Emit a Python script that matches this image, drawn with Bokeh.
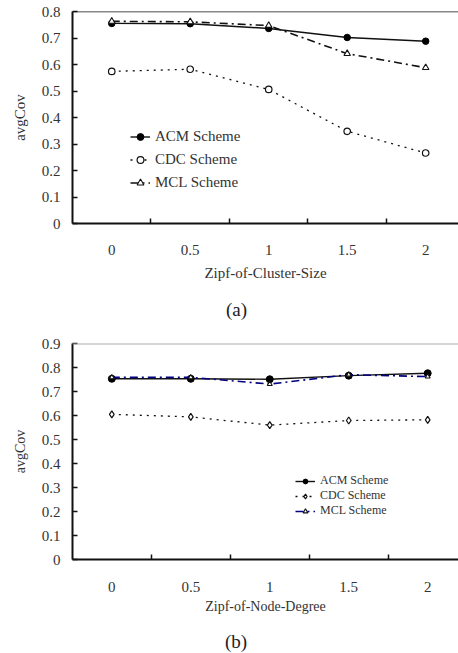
from bokeh.plotting import figure
from bokeh.models import FixedTicker, Legend, LegendItem, Span, Range1d, Div
from bokeh.layouts import column
from bokeh.embed import file_html
from bokeh.resources import INLINE

# ---- data ----
x_vals = [0, 0.5, 1, 1.5, 2]
x_labels = ["0", "0.5", "1", "1.5", "2"]
x_between = [0.25, 0.75, 1.25, 1.75]

acm_a = [0.755, 0.754, 0.736, 0.702, 0.688]
cdc_a = [0.574, 0.582, 0.506, 0.348, 0.266]
mcl_a = [0.763, 0.761, 0.747, 0.641, 0.588]

acm_b = [0.753, 0.753, 0.751, 0.766, 0.776]
cdc_b = [0.605, 0.594, 0.560, 0.579, 0.582]
mcl_b = [0.759, 0.759, 0.731, 0.770, 0.762]

y_ticks_a = [0, 0.1, 0.2, 0.3, 0.4, 0.5, 0.6, 0.7, 0.8]
y_labels_a = ["0", "0.1", "0.2", "0.3", "0.4", "0.5", "0.6", "0.7", "0.8"]
y_ticks_b = [0, 0.1, 0.2, 0.3, 0.4, 0.5, 0.6, 0.7, 0.8, 0.9]
y_labels_b = ["0", "0.1", "0.2", "0.3", "0.4", "0.5", "0.6", "0.7", "0.8", "0.9"]

names = ["ACM Scheme", "CDC Scheme", "MCL Scheme"]

FONT = "Liberation Serif"
TXT = "#333333"
AX = "#111111"


def make_chart(acm, cdc, mcl, y_ticks, y_labels, xlabel,
               x_range, height, top, bottom, left, top_line_color,
               top_line_width, mcl_color, cdc_marker, marker_sizes,
               axis_font, legend_font, legend_loc, legend_row,
               legend_spacing, tick_standoff, label_standoff):
    p = figure(width=458, height=height, x_range=Range1d(*x_range),
               y_range=Range1d(0, y_ticks[-1]), output_backend="svg",
               toolbar_location=None, min_border_left=left, min_border_right=0,
               min_border_top=top, min_border_bottom=bottom,
               outline_line_color=None, border_fill_color="white")
    p.grid.visible = False

    xa = p.xaxis[0]
    xa.ticker = FixedTicker(ticks=x_vals, minor_ticks=x_between)
    xa.major_label_overrides = {v: s for v, s in zip(x_vals, x_labels)}
    xa.major_tick_in = 0
    xa.major_tick_out = 0
    xa.minor_tick_in = 5
    xa.minor_tick_out = 0
    xa.minor_tick_line_color = AX
    xa.minor_tick_line_width = 1.5
    xa.axis_line_width = 2
    xa.axis_line_color = AX
    xa.major_label_standoff = tick_standoff
    xa.major_label_text_font = FONT
    xa.major_label_text_font_size = "15px"
    xa.major_label_text_color = TXT
    xa.axis_label = xlabel
    xa.axis_label_text_font = FONT
    xa.axis_label_text_font_size = axis_font
    xa.axis_label_text_font_style = "normal"
    xa.axis_label_text_color = TXT
    xa.axis_label_standoff = label_standoff

    ya = p.yaxis[0]
    ya.ticker = FixedTicker(ticks=y_ticks)
    ya.major_label_overrides = {v: s for v, s in zip(y_ticks, y_labels)}
    ya.major_tick_in = 5
    ya.major_tick_out = 0
    ya.major_tick_line_color = AX
    ya.major_tick_line_width = 1.5
    ya.minor_tick_in = 0
    ya.minor_tick_out = 0
    ya.axis_line_width = 2
    ya.axis_line_color = AX
    ya.major_label_standoff = 12
    ya.major_label_text_font = FONT
    ya.major_label_text_font_size = "15px"
    ya.major_label_text_color = TXT
    ya.axis_label = "avgCov"
    ya.axis_label_text_font = FONT
    ya.axis_label_text_font_size = axis_font
    ya.axis_label_text_font_style = "normal"
    ya.axis_label_text_color = TXT
    ya.axis_label_standoff = 11

    p.add_layout(Span(location=y_ticks[-1], dimension="width",
                      line_color=top_line_color, line_width=top_line_width))

    s_acm, s_cdc, s_mcl = marker_sizes
    l1 = p.line(x_vals, acm, line_color="#111111", line_width=1.4)
    m1 = p.scatter(x_vals, acm, marker="circle", size=s_acm,
                   fill_color="#000000", line_color="#000000")
    l2 = p.line(x_vals, cdc, line_color="#111111", line_width=1.3,
                line_dash="2 5")
    m2 = p.scatter(x_vals, cdc, marker=cdc_marker, size=s_cdc,
                   fill_color="white", line_color="#111111", line_width=1.2)
    l3 = p.line(x_vals, mcl, line_color=mcl_color, line_width=1.6,
                line_dash="8 4 2 4")
    m3 = p.scatter(x_vals, mcl, marker="triangle", size=s_mcl,
                   fill_color="white", line_color="#111111", line_width=1.1)

    legend = Legend(items=[LegendItem(label=names[0], renderers=[l1, m1]),
                           LegendItem(label=names[1], renderers=[l2, m2]),
                           LegendItem(label=names[2], renderers=[l3, m3])],
                    location=legend_loc, padding=0, margin=0,
                    spacing=legend_spacing, glyph_width=20,
                    glyph_height=legend_row, label_height=legend_row,
                    label_standoff=5, label_text_font=FONT,
                    label_text_font_size=legend_font,
                    label_text_color=TXT, border_line_color=None,
                    background_fill_alpha=0)
    p.add_layout(legend)
    return p


def caption(text, height, pad_top, pad_left):
    html = ('<div style="padding-top:%dpx; padding-left:%dpx; '
            'font-family:\'Liberation Serif\', serif; font-size:19px; '
            'line-height:19px; color:#222222; white-space:nowrap;">%s</div>'
            % (pad_top, pad_left, text))
    return Div(text=html, width=458, height=height, margin=0)


pa = make_chart(acm_a, cdc_a, mcl_a, y_ticks_a, y_labels_a,
                "Zipf-of-Cluster-Size", (-0.25, 2.209), 290, 11, 67, 72,
                "#111111", 1.5, "#111111", "circle", (6.5, 6.5, 6.5),
                "15px", "15px", (58, 32), 17, 6, 21, 7)

pb = make_chart(acm_b, cdc_b, mcl_b, y_ticks_b, y_labels_b,
                "Zipf-of-Node-Degree", (-0.249, 2.195), 294, 13, 65, 68,
                "#aaaaaa", 2, "#000080", "diamond", (7, 7, 5),
                "14px", "12px", (223, 41), 12, 0, 22, 4)

cap_a = caption("(a)", 40, 10, 226)
cap_b = caption("(b)", 29, 8, 225)

layout = column(pa, cap_a, pb, cap_b, spacing=0)
open("out.html", "w").write(file_html(layout, INLINE))
